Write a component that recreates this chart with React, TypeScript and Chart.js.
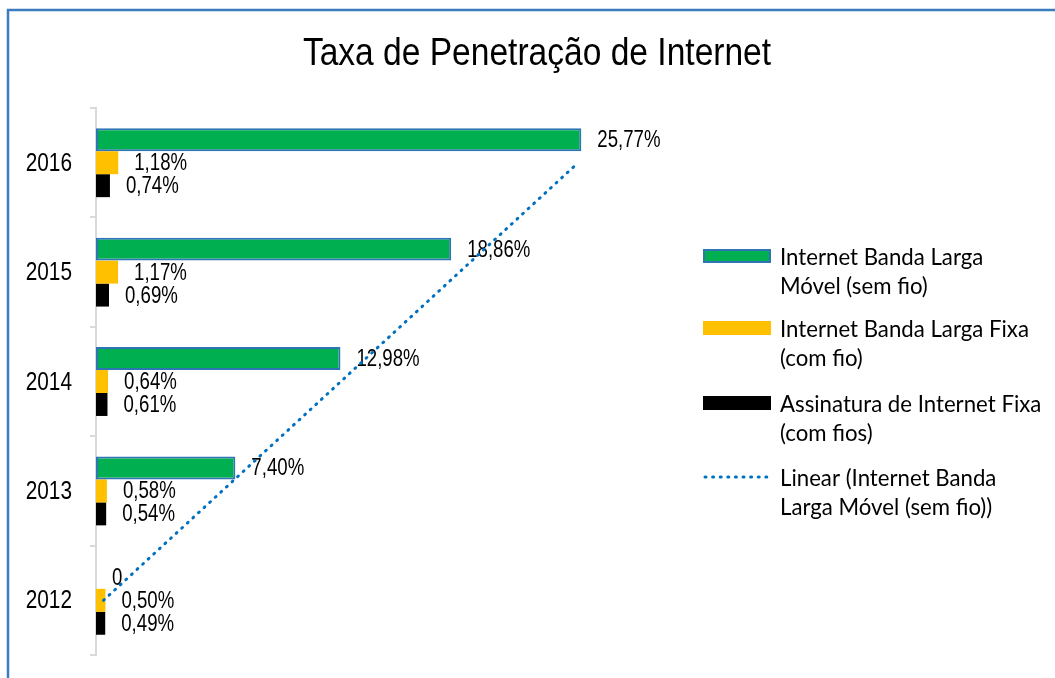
import { useEffect, useRef } from 'react';
import { Chart, registerables } from 'chart.js';

Chart.register(...registerables);

const chartTitle = 'Taxa de Penetração de Internet';
const years = ['2012', '2013', '2014', '2015', '2016'];
const movelSemFio = [0, 7.4, 12.98, 18.86, 25.77];
const fixaComFio = [0.5, 0.58, 0.64, 1.17, 1.18];
const assinaturaFixa = [0.49, 0.54, 0.61, 0.69, 0.74];
const trendMovel = [0.4, 6.7, 13.0, 19.3, 25.6];
const seriesNames = [
  'Internet Banda Larga Móvel (sem fio)',
  'Internet Banda Larga Fixa (com fio)',
  'Assinatura de Internet Fixa (com fios)',
  'Linear (Internet Banda Larga Móvel (sem fio))',
];
const legendLines = [
  ['Internet Banda Larga', 'Móvel (sem fio)'],
  ['Internet Banda Larga Fixa', '(com fio)'],
  ['Assinatura de Internet Fixa', '(com fios)'],
  ['Linear (Internet Banda', 'Larga Móvel (sem fio))'],
];
const xMax = 30;

const GREEN = '#00b050';
const GREEN_BORDER = '#2e75b6';
const YELLOW = '#ffc000';
const BLACK = '#000000';
const TREND = '#0070c0';
const SANS = '"Liberation Sans", Arial, sans-serif';
const LEGEND_FONT = 'Lato, "Open Sans", sans-serif';

function fmt(v: number): string {
  if (v === 0) return '0';
  return v.toFixed(2).replace('.', ',') + '%';
}

// draw text condensed horizontally (sx < 1)
function condensedText(
  ctx: CanvasRenderingContext2D,
  text: string,
  x: number,
  y: number,
  sx: number,
  align: 'left' | 'right' | 'center'
) {
  ctx.save();
  ctx.translate(x, y);
  ctx.scale(sx, 1);
  ctx.textAlign = align;
  ctx.fillText(text, 0, 0);
  ctx.restore();
}

const framePlugin = {
  id: 'frame',
  beforeDraw(chart: any) {
    const ctx = chart.ctx;
    ctx.save();
    ctx.fillStyle = '#ffffff';
    ctx.fillRect(0, 0, chart.width, chart.height);
    ctx.strokeStyle = '#3b7bbf';
    ctx.lineWidth = 2.5;
    ctx.strokeRect(8, 10, 1200, 900);
    ctx.fillStyle = '#000';
    ctx.font = `38px ${SANS}`;
    ctx.textBaseline = 'alphabetic';
    condensedText(ctx, chartTitle, 537, 65, 0.883, 'center');
    ctx.restore();
  },
  afterDraw(chart: any) {
    const ctx = chart.ctx;
    const ys = chart.scales.y;
    ctx.save();
    ctx.fillStyle = '#000';
    ctx.font = `26px ${SANS}`;
    ctx.textBaseline = 'middle';
    years.forEach((yr, i) => {
      condensedText(ctx, yr, chart.chartArea.left - 24, ys.getPixelForValue(i) + 1, 0.8, 'right');
    });
    ctx.restore();
  },
};

const labelPlugin = {
  id: 'barLabels',
  afterDatasetDraw(chart: any, args: any) {
    const meta = args.meta;
    if (meta.type !== 'bar') return;
    const ds = chart.data.datasets[args.index];
    const ctx = chart.ctx;
    ctx.save();
    ctx.fillStyle = '#000';
    ctx.font = `23.3px ${SANS}`;
    ctx.textBaseline = 'middle';
    meta.data.forEach((el: any, i: number) => {
      const v = ds.data[i] as number;
      condensedText(ctx, fmt(v), el.x + 16, el.y + 1, 0.8, 'left');
    });
    ctx.restore();
  },
};

const legendPlugin = {
  id: 'sideLegend',
  afterDraw(chart: any) {
    const ctx = chart.ctx;
    ctx.save();
    const x0 = 703;
    const w = 68;
    const baselines = [265, 337, 412, 486];
    const fills = [GREEN, YELLOW, BLACK];
    baselines.forEach((b, i) => {
      const cy = b - 9;
      if (i < 3) {
        ctx.fillStyle = fills[i];
        ctx.fillRect(x0, cy - 7, w, 14);
        if (i === 0) {
          ctx.strokeStyle = GREEN_BORDER;
          ctx.lineWidth = 2;
          ctx.strokeRect(x0 + 1, cy - 6, w - 2, 12);
        }
      } else {
        ctx.strokeStyle = TREND;
        ctx.lineWidth = 3;
        ctx.lineCap = 'round';
        ctx.setLineDash([1, 6.6]);
        ctx.beginPath();
        ctx.moveTo(x0 + 2, cy);
        ctx.lineTo(x0 + w, cy);
        ctx.stroke();
        ctx.setLineDash([]);
      }
      ctx.fillStyle = '#000';
      ctx.font = `23.5px ${LEGEND_FONT}`;
      ctx.textBaseline = 'alphabetic';
      condensedText(ctx, legendLines[i][0], 780, b, 0.945, 'left');
      condensedText(ctx, legendLines[i][1], 780, b + 28.5, 0.945, 'left');
    });
    ctx.restore();
  },
};

export default function App() {
  const ref = useRef<HTMLCanvasElement | null>(null);

  useEffect(() => {
    if (!ref.current) return;
    const chart = new Chart(ref.current, {
      type: 'bar',
      data: {
        labels: years,
        datasets: [
          {
            type: 'bar',
            label: seriesNames[0],
            data: movelSemFio,
            backgroundColor: GREEN,
            borderColor: GREEN_BORDER,
            borderWidth: 2,
            borderSkipped: false,
            categoryPercentage: 0.63,
            barPercentage: 1,
          },
          {
            type: 'bar',
            label: seriesNames[1],
            data: fixaComFio,
            backgroundColor: YELLOW,
            borderWidth: 0,
            categoryPercentage: 0.63,
            barPercentage: 1,
          },
          {
            type: 'bar',
            label: seriesNames[2],
            data: assinaturaFixa,
            backgroundColor: BLACK,
            borderWidth: 0,
            categoryPercentage: 0.63,
            barPercentage: 1,
          },
          {
            type: 'line',
            label: seriesNames[3],
            data: trendMovel,
            indexAxis: 'y',
            borderColor: TREND,
            borderWidth: 3,
            borderDash: [1, 6.6],
            borderCapStyle: 'round',
            pointRadius: 0,
            fill: false,
            tension: 0,
            order: -1,
          } as any,
        ],
      },
      options: {
        indexAxis: 'y',
        animation: false,
        responsive: false,
        layout: { padding: { left: 0, top: 108, right: 394, bottom: 23 } },
        plugins: {
          legend: { display: false },
          title: { display: false },
          tooltip: { enabled: false },
        },
        scales: {
          x: { display: false, min: 0, max: xMax },
          y: {
            type: 'category',
            reverse: true,
            offset: true,
            grid: {
              display: true,
              drawOnChartArea: false,
              drawTicks: true,
              tickLength: 6,
              color: '#d9d9d9',
              lineWidth: 2,
              offset: true,
            },
            border: { display: true, color: '#d9d9d9', width: 2 },
            ticks: { display: false },
            afterFit: (s: any) => {
              s.width = 96;
            },
          },
        },
      },
      plugins: [framePlugin, labelPlugin, legendPlugin],
    });
    return () => chart.destroy();
  }, []);

  return (
    <div style={{ position: 'absolute', left: 0, top: 0, width: 1055, height: 678 }}>
      <canvas ref={ref} width={1055} height={678} />
    </div>
  );
}
